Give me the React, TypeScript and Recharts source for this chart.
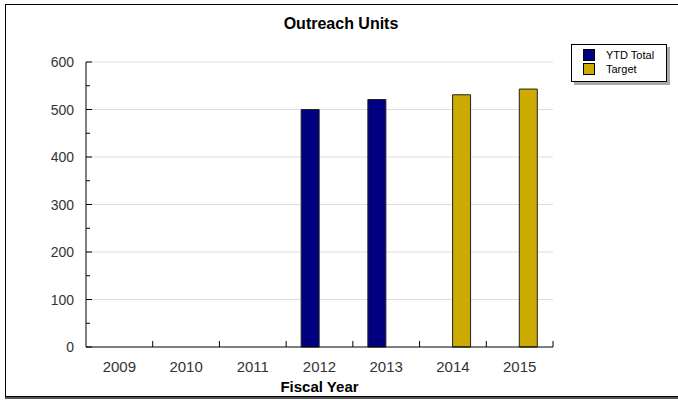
import { BarChart, Bar, XAxis, YAxis, CartesianGrid } from 'recharts'

const years = ['2009', '2010', '2011', '2012', '2013', '2014', '2015']
const ytdTotal = [null, null, null, 500, 521, null, null]
const target = [null, null, null, null, null, 531, 543]
const yTicks = [0, 50, 100, 150, 200, 250, 300, 350, 400, 450, 500, 550, 600]
const gridValues = [100, 200, 300, 400, 500, 600]

const series = [
  { key: 'ytd', name: 'YTD Total', color: '#000080' },
  { key: 'target', name: 'Target', color: '#ccaa00' },
]

const data = years.map((year, i) => ({ year, ytd: ytdTotal[i], target: target[i] }))

const FONT = 'Arial, "Liberation Sans", sans-serif'
const PLOT_LEFT = 86
const PLOT_RIGHT = 553
const AXIS_Y = 347
const HALF_BAND = (PLOT_RIGHT - PLOT_LEFT) / years.length / 2

function YTick(props: any) {
  const { x, y, payload } = props
  const major = payload.value % 100 === 0
  return (
    <g>
      <line x1={PLOT_LEFT} x2={PLOT_LEFT + (major ? 6 : 4)} y1={y} y2={y} stroke="#000" />
      {major && (
        <text x={x} y={y} dy={5} textAnchor="end" fontSize={14} fill="#333" fontFamily={FONT}>
          {payload.value}
        </text>
      )}
    </g>
  )
}

function XTick(props: any) {
  const { x, payload } = props
  return (
    <g>
      <line x1={x + HALF_BAND} x2={x + HALF_BAND} y1={AXIS_Y} y2={AXIS_Y - 6} stroke="#000" />
      <text x={x} y={AXIS_Y + 25} textAnchor="middle" fontSize={15} fill="#333" fontFamily={FONT}>
        {payload.value}
      </text>
    </g>
  )
}

export default function App() {
  return (
    <div style={{ position: 'absolute', left: 0, top: 0, width: 678, height: 400, overflow: 'hidden', background: '#fff' }}>
      <div
        style={{
          position: 'absolute',
          left: 5,
          top: 4,
          width: 690,
          height: 391,
          border: '1px solid #000',
          boxShadow: '0 2px 0 #555',
        }}
      />
      <div
        style={{
          position: 'absolute',
          left: 5,
          width: 672,
          top: 15,
          textAlign: 'center',
          fontFamily: FONT,
          fontWeight: 'bold',
          fontSize: 16,
          color: '#000',
        }}
      >
        Outreach Units
      </div>
      <div style={{ position: 'absolute', left: 0, top: 0 }}>
        <BarChart
          width={678}
          height={400}
          data={data}
          barGap={0}
          margin={{ top: 62, right: 125, left: 6, bottom: 3 }}
        >
          <CartesianGrid horizontalValues={gridValues} vertical={false} stroke="#dddddd" />
          <XAxis
            dataKey="year"
            height={50}
            axisLine={{ stroke: '#000' }}
            tickLine={false}
            tick={<XTick />}
            interval={0}
            label={{ value: 'Fiscal Year', position: 'insideBottom', offset: 5, fontSize: 15, fontWeight: 'bold', fill: '#000', fontFamily: FONT }}
          />
          <YAxis
            width={80}
            domain={[0, 600]}
            ticks={yTicks}
            interval={0}
            axisLine={{ stroke: '#000' }}
            tickLine={false}
            tickSize={0}
            tickMargin={12}
            tick={<YTick />}
          />
          {series.map((s) => (
            <Bar
              key={s.key}
              dataKey={s.key}
              name={s.name}
              fill={s.color}
              stroke="#222"
              strokeWidth={1}
              barSize={18}
              isAnimationActive={false}
            />
          ))}
        </BarChart>
      </div>
      <div
        style={{
          position: 'absolute',
          left: 571,
          top: 44,
          width: 94,
          height: 36,
          border: '1px solid #000',
          background: '#fff',
          boxShadow: '3px 3px 0 #aaa',
          fontFamily: FONT,
          fontSize: 11,
        }}
      >
        {series.map((s, i) => (
          <div key={s.key} style={{ position: 'absolute', left: 11, top: 4 + i * 14, display: 'flex', alignItems: 'center' }}>
            <div style={{ width: 10, height: 10, background: s.color, border: '1px solid #000' }} />
            <span style={{ marginLeft: 11, lineHeight: '12px' }}>{s.name}</span>
          </div>
        ))}
      </div>
    </div>
  )
}
